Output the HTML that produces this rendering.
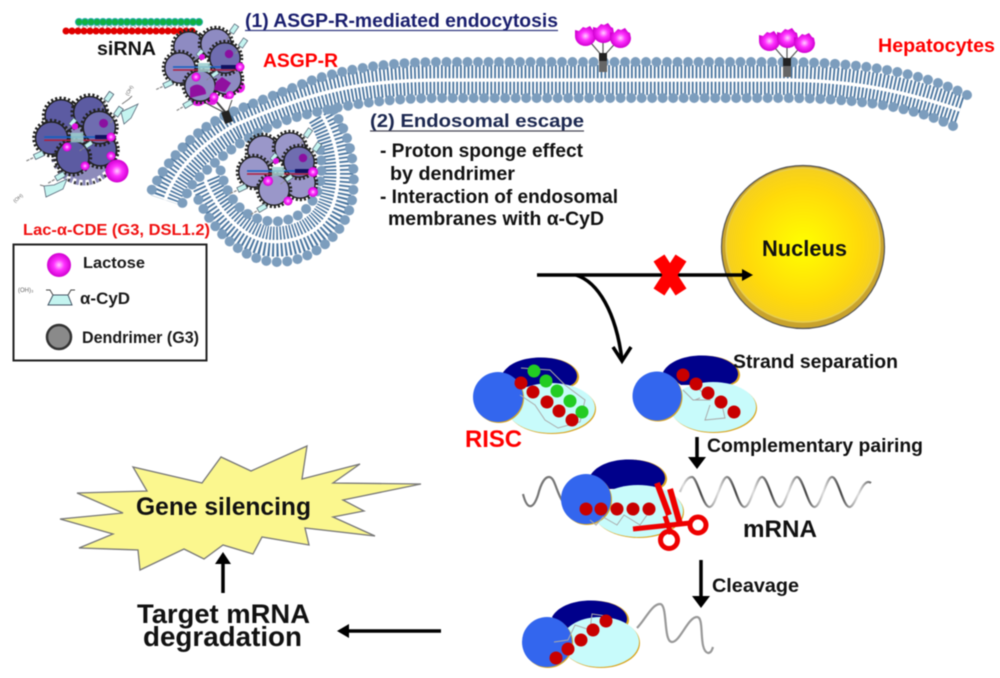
<!DOCTYPE html>
<html>
<head>
<meta charset="utf-8">
<style>
html,body{margin:0;padding:0;background:#fff;width:1000px;height:678px;overflow:hidden}
svg{display:block;filter:blur(.5px)}
text{font-family:"Liberation Sans",sans-serif;font-weight:bold}
</style>
</head>
<body>
<svg width="1000" height="678" viewBox="0 0 1000 678" xmlns="http://www.w3.org/2000/svg">
<defs>
<radialGradient id="mg" cx=".5" cy=".5" r=".5"><stop offset="0" stop-color="#ffd0ff"/><stop offset=".45" stop-color="#ff30ff"/><stop offset="1" stop-color="#d000d0"/></radialGradient>
<radialGradient id="nu" cx=".5" cy=".5" r=".5"><stop offset="0" stop-color="#ffff00"/><stop offset=".75" stop-color="#ffd90a"/><stop offset="1" stop-color="#f5cf20"/></radialGradient>
<linearGradient id="wv" gradientUnits="userSpaceOnUse" x1="692" y1="0" x2="727" y2="0" spreadMethod="repeat"><stop offset="0" stop-color="#888"/><stop offset=".25" stop-color="#444"/><stop offset=".5" stop-color="#999"/><stop offset=".75" stop-color="#ddd"/><stop offset="1" stop-color="#888"/></linearGradient>
<g id="lb"><circle r="16.500" fill="none" stroke="#222" stroke-width="3.500" stroke-dasharray="2 2"/><circle r="15.200" fill="currentColor" stroke="#222" stroke-width="1.400"/></g>
<g id="cy"><path d="M-13 0H-5" stroke="#888" stroke-width="1.200" stroke-dasharray="3 1"/><rect x="-4.500" y="-2.500" width="9" height="5" fill="#c4f4f0" stroke="#567" stroke-width=".8"/></g>
<g id="cl">
<use href="#lb" x="-14" y="-19"/><use href="#lb" x="13" y="-22"/><use href="#lb" x="-23" y="2"/><use href="#lb" x="23" y="13"/><use href="#lb" x="-3" y="20"/>
<use href="#lb" x="22" y="-8" color="#6f6db0"/>
<path d="M-30 1H33" stroke="#1560c0" stroke-width="1.600"/><path d="M-30 4H33" stroke="#b02040" stroke-width="1.400"/>
<path d="M18 1H36" stroke="#101060" stroke-width="4"/>
<rect x="-5" y="-3" width="12" height="9" fill="#9cc" opacity=".85"/>
<use href="#cy" transform="translate(-3,-13) rotate(-50) scale(.8)"/>
<use href="#cy" transform="translate(12,8) rotate(-35) scale(.8)"/>
<use href="#cy" transform="translate(31,-37) rotate(-55)"/><use href="#cy" transform="translate(40,-23) rotate(-55)"/>
<use href="#cy" transform="translate(-35,18) rotate(-25)"/><use href="#cy" transform="translate(-15,38) rotate(-30)"/>
<circle cx="-1" cy="-9" r="3" fill="#e010e0"/>
<circle cx="26" cy="-12" r="4.200" fill="#8a10a0"/>
</g>
<g id="fl"><path d="M-10 -6l4 1 4-4 3 1 4-2 3 4 2 1 1 5a10.500 10 0 1 1-21 0z" fill="url(#mg)"/></g>
<g id="rc">
<path d="M0 24L-18 3M0 24L0 0M0 24L17 5" stroke="#555" stroke-width="1.200" fill="none"/>
<use href="#fl" x="-18" y="3"/><use href="#fl" x="0" y="0"/><use href="#fl" x="17" y="5"/>
<rect x="-4" y="20" width="8" height="19" fill="#666"/><rect x="-4" y="20" width="8" height="8" fill="#222"/>
</g>
<g id="nv">
<path d="M-38 3C-30 -11 -8 -16 10 -14C30 -12 40 -2 39 6C38 11 36 13 30 15L-20 15Z" fill="#d9a520"/>
<path d="M-38 2C-30 -12 -8 -16 9 -14C28 -12 38 -3 37 5C36 10 34 12 29 14L-20 15Z" fill="#00008b"/>
</g>
</defs>
<rect width="1000" height="678" fill="#fff"/>

<!-- membrane tails -->
<g fill="none" stroke="#4a759f">
<path d="M960 110C900 90 850 80 780 80L440 80C360 80 310 92 235 125C200 145 175 170 165 200" stroke-width="30" stroke-dasharray="1.800 2"/>
<path d="M322 115C340 145 342 180 333 205C320 240 280 245 262 240C235 232 215 205 205 180" stroke-width="30" stroke-dasharray="1.800 2"/>
</g>
<g fill="none" stroke="#fff" stroke-width="3.500">
<path d="M960 110C900 90 850 80 780 80L440 80C360 80 310 92 235 125C200 145 175 170 165 200"/>
<path d="M322 115C340 145 342 180 333 205C320 240 280 245 262 240C235 232 215 205 205 180"/>
</g>
<!-- membrane heads -->
<g fill="none" stroke="#7c9dbd" stroke-width="10" stroke-linecap="round" stroke-dasharray="0 10.500">
<path d="M967 95C920 72 860 62 780 62L440 62C380 62 330 72 300 85L237 110C200 125 170 155 150 193"/>
<path d="M953 126C910 105 850 98 780 98L440 98C390 98 340 105 297 117C250 130 215 160 190 187L180 208"/>
<path d="M333 110C350 135 356 165 353 193C350 230 315 262 278 262C245 262 215 235 195 193"/>
<path d="M320 150C323 170 322 185 313 200C300 222 275 226 253 217C235 208 225 190 220 168"/>
</g>

<!-- siRNA -->
<g fill="none" stroke-linecap="round" stroke-dasharray="0 6">
<path d="M79 22H204" stroke="#2aa" stroke-width="8"/><path d="M79 22H204" stroke="#10b040" stroke-width="6"/>
<path d="M66 31H193" stroke="#e00000" stroke-width="7"/>
</g>
<path d="M78 26.500H190" stroke="#bbb" stroke-width="2" stroke-dasharray="2 2"/>

<!-- receptors -->
<use href="#rc" x="603" y="33"/>
<use href="#rc" x="787" y="38"/>
<path d="M215 100L227 114" stroke="#444" stroke-width="2"/><path d="M200 100L227 114M232 100L227 114" stroke="#444" stroke-width="1"/>
<rect x="223" y="111" width="8" height="12" fill="#222" transform="rotate(-20 227 117)"/>

<!-- clusters -->
<g color="#9a97c9"><use href="#cl" transform="translate(277,170)"/></g>
<circle cx="268" cy="181" r="5" fill="url(#mg)"/><circle cx="313" cy="172" r="5" fill="url(#mg)"/><circle cx="313" cy="192" r="5" fill="url(#mg)"/><circle cx="288" cy="201" r="4.500" fill="url(#mg)"/>

<g><circle cx="198" cy="97" r="9" fill="#e018e0"/><circle cx="239" cy="87" r="6" fill="#ee20ee"/><circle cx="228" cy="92" r="7" fill="#d810d8"/><circle cx="212" cy="99" r="6" fill="#e018e0"/></g>
<g color="#8e8bc2"><use href="#cl" transform="translate(203,66)"/></g>
<path d="M190 88a9 9 0 0 1 16 6l-16 4zM216 82l6-5 9 6-6 9-11-2z" fill="#90109f"/>
<circle cx="196" cy="77" r="4.500" fill="url(#mg)"/><circle cx="240" cy="67" r="4.500" fill="url(#mg)"/><circle cx="214" cy="97" r="4.500" fill="url(#mg)"/><circle cx="230" cy="95" r="4" fill="url(#mg)"/>

<circle cx="84" cy="152" r="28" fill="#8d8bba"/>
<circle cx="84" cy="152" r="30" fill="none" stroke="#8d8bba" stroke-width="7" stroke-dasharray="3 3.500"/>
<circle cx="84" cy="152" r="32" fill="none" stroke="#333" stroke-width="3" stroke-dasharray="2 4.500"/>
<g color="#5c5ba2"><use href="#cl" transform="translate(76,136) scale(1.060)"/></g>
<circle cx="67" cy="147" r="4.500" fill="url(#mg)"/><circle cx="111" cy="137" r="4.500" fill="url(#mg)"/><circle cx="111" cy="156" r="4.500" fill="url(#mg)"/><circle cx="85" cy="166" r="4.500" fill="url(#mg)"/>
<circle cx="117" cy="171" r="11.500" fill="url(#mg)"/>
<path d="M121 112l17-8-7 14-7 6z M46 197l-2-11 10-1 13-6-4 10z" fill="#c4f4f0" stroke="#567" stroke-width=".8"/>
<path d="M122 104l7-5 3-3M44 186l-4-1" stroke="#777" stroke-width="1" fill="none"/>
<text x="0" y="0" font-size="5" fill="#666" transform="translate(128,96) rotate(-60)" style="font-weight:normal">(OH)</text>
<text x="0" y="0" font-size="5" fill="#666" transform="translate(15,203) rotate(-40)" style="font-weight:normal">(OH)</text>

<!-- top labels -->
<text x="245" y="27" font-size="19.300" fill="#1a1f6e" textLength="313" lengthAdjust="spacingAndGlyphs">(1) ASGP-R-mediated endocytosis</text>
<path d="M245 30.500H558" stroke="#303880" stroke-width="1.300"/>
<text x="97" y="55" font-size="19.700" fill="#111" textLength="59" lengthAdjust="spacingAndGlyphs">siRNA</text>
<text x="263" y="67" font-size="19.300" fill="#f00" textLength="75" lengthAdjust="spacingAndGlyphs">ASGP-R</text>
<text x="878" y="52" font-size="19.500" fill="#f00" textLength="117" lengthAdjust="spacingAndGlyphs">Hepatocytes</text>
<text x="370" y="127" font-size="18.500" fill="#1c2850" textLength="214" lengthAdjust="spacingAndGlyphs">(2) Endosomal escape</text>
<path d="M370 131H584" stroke="#445" stroke-width="1.300"/>
<g fill="#111">
<text x="380" y="157" font-size="19" textLength="203" lengthAdjust="spacingAndGlyphs">- Proton sponge effect</text>
<text x="390" y="180" font-size="19" textLength="125" lengthAdjust="spacingAndGlyphs">by dendrimer</text>
<text x="380" y="203" font-size="19" textLength="238" lengthAdjust="spacingAndGlyphs">- Interaction of endosomal</text>
<text x="388" y="225" font-size="19" textLength="216" lengthAdjust="spacingAndGlyphs">membranes with α-CyD</text>
</g>
<text x="23" y="235" font-size="15.500" fill="#f01010" textLength="187" lengthAdjust="spacingAndGlyphs">Lac-α-CDE (G3, DSL1.2)</text>

<!-- legend -->
<rect x="13.500" y="244.500" width="193" height="116" fill="#fff" stroke="#222" stroke-width="2"/>
<circle cx="59" cy="265" r="12" fill="url(#mg)"/>
<path d="M48 305H72L68 295H53z" fill="#c4f4f0" stroke="#456" stroke-width="1"/>
<path d="M53 295L50 290H46M68 295L71 290H75" stroke="#444" stroke-width="1" fill="none"/>
<text x="18" y="292" font-size="6" fill="#666" style="font-weight:normal">(OH)₃</text>
<circle cx="59" cy="337" r="12" fill="#8a8a8a" stroke="#333" stroke-width="2.500"/>
<g fill="#1a1a1a">
<text x="83" y="268" font-size="15.600" textLength="62" lengthAdjust="spacingAndGlyphs">Lactose</text>
<text x="80" y="304" font-size="17" textLength="50" lengthAdjust="spacingAndGlyphs">α-CyD</text>
<text x="82" y="343" font-size="17" textLength="117" lengthAdjust="spacingAndGlyphs">Dendrimer (G3)</text>
</g>

<!-- nucleus -->
<circle cx="803" cy="247" r="81.500" fill="#c9a32c" stroke="#555" stroke-width="1.200"/>
<circle cx="803" cy="245" r="77" fill="url(#nu)" stroke="#e8cf50" stroke-width="1.500"/>
<text x="762" y="256" font-size="21.800" fill="#111" textLength="85" lengthAdjust="spacingAndGlyphs">Nucleus</text>

<!-- main arrows -->
<path d="M537 275H745" stroke="#000" stroke-width="3.500" fill="none"/>
<path d="M753 275L742 269V281z" fill="#000"/>
<path d="M576 275C598 282 616 312 622 360" stroke="#000" stroke-width="3.500" fill="none"/>
<path d="M613 347L622 361L631 347" stroke="#000" stroke-width="3.500" fill="none"/>
<path d="M659 258L681 292M681 258L659 292" stroke="#f00" stroke-width="13" fill="none"/>

<!-- RISC 1 -->
<use href="#nv" x="540" y="372"/>
<ellipse cx="552" cy="409" rx="44" ry="25" fill="#d9a520"/>
<ellipse cx="551" cy="408" rx="44" ry="25" fill="#c8fbfb"/>
<circle cx="499" cy="398" r="25" fill="#d9a520"/>
<circle cx="498" cy="397" r="25" fill="#3366ee"/>
<path d="M521 368L550 370L565 385L585 400L580 422L558 428L545 420L535 405L520 395" fill="none" stroke="#aaa" stroke-width="1"/>
<g fill="#c80000"><circle cx="521" cy="383" r="6.500"/><circle cx="533" cy="392" r="6.500"/><circle cx="547" cy="402" r="6.500"/><circle cx="559" cy="411" r="6.500"/><circle cx="572" cy="420" r="6.500"/></g>
<g fill="#22cc22"><circle cx="534" cy="371" r="6.500"/><circle cx="546" cy="381" r="6.500"/><circle cx="557" cy="391" r="6.500"/><circle cx="570" cy="401" r="6.500"/><circle cx="582" cy="412" r="6.500"/></g>
<text x="465" y="447" font-size="23.800" fill="#f00" textLength="57" lengthAdjust="spacingAndGlyphs">RISC</text>

<!-- RISC 2 -->
<use href="#nv" x="701" y="370"/>
<ellipse cx="714" cy="408" rx="43" ry="25" fill="#d9a520"/>
<ellipse cx="713" cy="407" rx="43" ry="25" fill="#c8fbfb"/>
<circle cx="658" cy="397" r="24.500" fill="#d9a520"/>
<circle cx="657" cy="396" r="24.500" fill="#3366ee"/>
<path d="M683 390L693 400L710 400L695 385M700 398L695 400M710 405L705 420L725 418L722 405" fill="none" stroke="#aaa" stroke-width="1"/>
<g fill="#c80000"><circle cx="683" cy="375" r="6.500"/><circle cx="696" cy="384" r="6.500"/><circle cx="708" cy="393" r="6.500"/><circle cx="721" cy="402" r="6.500"/><circle cx="734" cy="412" r="6.500"/></g>
<text x="733" y="368" font-size="19" fill="#111" textLength="165" lengthAdjust="spacingAndGlyphs">Strand separation</text>

<!-- arrow 1 -->
<path d="M697 437V460" stroke="#000" stroke-width="3.500"/><path d="M697 469L688 457H706z" fill="#000"/>
<text x="707" y="452" font-size="19" fill="#111" textLength="216" lengthAdjust="spacingAndGlyphs">Complementary pairing</text>

<!-- mRNA waves -->
<g fill="none" stroke-width="2.200">
<path d="M523 494C527 510 533 510 538 495C541 483 545 477 549 477C555 477 556 492 563 502" stroke="#777"/>
<path d="M680 492C684 483 687 477 692 477S703 507 709.500 507S721 477 727 477S738 507 744.500 507S756 477 762 477S773 507 779.500 507S791 477 797 477S808 507 814.500 507S826 477 832 477S843 507 849.500 507S862 476 871 483" stroke="url(#wv)"/>
</g>

<!-- RISC 3 -->
<use href="#nv" x="628" y="474"/>
<ellipse cx="639" cy="512" rx="45" ry="26" fill="#d9a520"/>
<ellipse cx="638" cy="511" rx="45" ry="26" fill="#c8fbfb"/>
<circle cx="587" cy="500" r="25" fill="#d9a520"/>
<circle cx="586" cy="499" r="25" fill="#3366ee"/>
<path d="M590 520L596 525L603 517L617 525L624 515L640 525L647 515" fill="none" stroke="#aaa" stroke-width="1"/>
<g fill="#c80000"><circle cx="586" cy="509" r="6.500"/><circle cx="601" cy="509" r="6.500"/><circle cx="617" cy="509" r="6.500"/><circle cx="633" cy="509" r="6.500"/><circle cx="649" cy="509" r="6.500"/></g>
<!-- scissors -->
<g fill="none" stroke="#ee0000">
<path d="M657 483L669 515" stroke-width="6"/>
<path d="M670 489L680 524" stroke-width="6"/>
<path d="M633 529L690 523" stroke-width="5"/>
<path d="M665 516L671 534" stroke-width="5"/>
<circle cx="698" cy="525" r="8" stroke-width="5"/>
<circle cx="669" cy="540" r="8.500" stroke-width="5"/>
</g>
<text x="743" y="537" font-size="24.300" fill="#111" textLength="74" lengthAdjust="spacingAndGlyphs">mRNA</text>

<!-- arrow 2 -->
<path d="M701 560V598" stroke="#000" stroke-width="3.500"/><path d="M701 608L692 596H710z" fill="#000"/>
<text x="712" y="592" font-size="19.800" fill="#111" textLength="87" lengthAdjust="spacingAndGlyphs">Cleavage</text>

<!-- RISC 4 -->
<use href="#nv" x="590" y="615"/>
<ellipse cx="601" cy="643" rx="39" ry="25" fill="#d9a520"/>
<ellipse cx="600" cy="642" rx="39" ry="25" fill="#c8fbfb"/>
<circle cx="548" cy="643" r="25" fill="#d9a520"/>
<circle cx="547" cy="642" r="25" fill="#3366ee"/>
<path d="M554 642L568 640L575 625L590 630L592 614L606 616" fill="none" stroke="#aaa" stroke-width="1"/>
<g fill="#c80000"><circle cx="556" cy="658" r="6.500"/><circle cx="568" cy="649" r="6.500"/><circle cx="581" cy="640" r="6.500"/><circle cx="593" cy="630" r="6.500"/><circle cx="606" cy="621" r="6.500"/></g>
<path d="M637 628C645 620 652 604 660 604C668 604 663 642 672 642C680 642 688 617 697 617C705 617 698 650 708 653C711 653 712 650 713 647" fill="none" stroke="#999" stroke-width="2.200"/>

<!-- gene silencing -->
<polygon points="60,519 123,513 77,493 147,491 133,467 202,483 221,457 251,471 307,446 302,479 360,464 333,483 421,484 343,500 364,511 333,517 375,536 305,528 309,545 262,537 253,554 223,545 204,559 184,549 140,570 138,550 79,548 113,534" fill="#fbf78e" stroke="#777" stroke-width="1.300"/>
<text x="136" y="515" font-size="24.600" fill="#111" textLength="175" lengthAdjust="spacingAndGlyphs">Gene silencing</text>
<path d="M223 593V562" stroke="#000" stroke-width="3.500"/><path d="M223 552L215 564H231z" fill="#000"/>
<text x="137" y="623" font-size="27" fill="#111" textLength="173" lengthAdjust="spacingAndGlyphs">Target mRNA</text>
<text x="143" y="646" font-size="27.500" fill="#111" textLength="159" lengthAdjust="spacingAndGlyphs">degradation</text>
<path d="M441 631H347" stroke="#000" stroke-width="3.500"/><path d="M337 631L349 624V638z" fill="#000"/>
</svg>
</body>
</html>
